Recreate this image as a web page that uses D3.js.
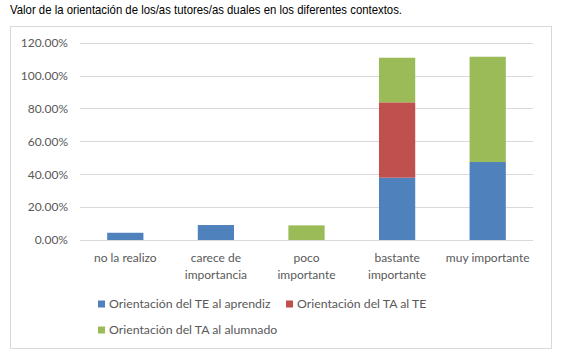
<!DOCTYPE html>
<html><head><meta charset="utf-8">
<script src="https://cdn.jsdelivr.net/npm/d3@7"></script>
<style>body{margin:0;background:#fff}</style>
</head><body><svg id="c" width="566" height="360"></svg>
<script>
const categories = [["no la realizo"], ["carece de","importancia"], ["poco","importante"], ["bastante","importante"], ["muy importante"]];
const seriesNames = ["Orientación del TE al aprendiz", "Orientación del TA al TE", "Orientación del TA al alumnado"];
const teAprendiz = [4.4, 9.1, 0, 37.9, 47.4];
const taTE = [0, 0, 0, 45.8, 0];
const taAlumnado = [0, 0, 8.9, 27.1, 64.0];
const yTicks = [0, 20, 40, 60, 80, 100, 120];
const colors = ["#4f81bd", "#c0504d", "#9bbb59"];
const title = "Valor de la orientación de los/as tutores/as duales en los diferentes contextos.";

const svg = d3.select("#c");
svg.append("text").attr("x", 10).attr("y", 14).attr("font-family", "'Liberation Sans Narrow','Arial Narrow',sans-serif")
  .attr("font-size", 13.5).attr("fill", "#000").attr("textLength", 392).attr("lengthAdjust", "spacingAndGlyphs").text(title);

svg.append("rect").attr("x", 10.5).attr("y", 26.5).attr("width", 541).attr("height", 322)
  .attr("fill", "#fff").attr("stroke", "#d9d9d9");

const x = d3.scaleBand().domain(d3.range(categories.length)).range([80, 533]).paddingInner(0.6).paddingOuter(0.3);
const y = d3.scaleLinear().domain([0, 120]).range([240, 42.6]);

const g = svg.append("g");
g.selectAll("line.grid").data(yTicks).join("line").attr("class", "grid")
  .attr("x1", 80).attr("x2", 533).attr("y1", d => Math.round(y(d)) + 0.5).attr("y2", d => Math.round(y(d)) + 0.5)
  .attr("stroke", "#d9d9d9").attr("stroke-width", 1);

const yAxis = d3.axisLeft(y).tickValues(yTicks).tickFormat(d => d.toFixed(2) + "%").tickSize(0).tickPadding(0);
const ya = svg.append("g").attr("transform", "translate(68,0)").call(yAxis);
ya.select(".domain").remove();
ya.selectAll("text").attr("font-family", "Lato, 'Open Sans', sans-serif").attr("font-size", 12).attr("fill", "#595959");

const data = categories.map((c, i) => ({i, s0: teAprendiz[i], s1: taTE[i], s2: taAlumnado[i]}));
const stack = d3.stack().keys(["s0", "s1", "s2"])(data);
stack.forEach((layer, k) => {
  g.selectAll("rect.s" + k).data(layer.filter(d => d[1] - d[0] > 0)).join("rect")
    .attr("x", d => x(d.data.i)).attr("width", x.bandwidth())
    .attr("y", d => y(d[1])).attr("height", d => y(d[0]) - y(d[1]))
    .attr("fill", colors[k]);
});

const xa = svg.append("g");
categories.forEach((lines, i) => {
  const cx = x(i) + x.bandwidth() / 2;
  const t = xa.append("text").attr("text-anchor", "middle").attr("font-family", "Lato, 'Open Sans', sans-serif")
    .attr("font-size", 12).attr("fill", "#595959");
  lines.forEach((l, j) => t.append("tspan").attr("x", cx).attr("y", 261.5 + j * 17).text(l));
});

const legendPos = [[98, 304], [286, 304], [98, 330]];
seriesNames.forEach((n, k) => {
  const [lx, ly] = legendPos[k];
  svg.append("rect").attr("x", lx).attr("y", ly - 3.5).attr("width", 7).attr("height", 7).attr("fill", colors[k]);
  svg.append("text").attr("x", lx + 11).attr("y", ly + 4.4).attr("font-family", "Lato, 'Open Sans', sans-serif")
    .attr("font-size", 12.3).attr("fill", "#595959").text(n);
});
</script></body></html>
